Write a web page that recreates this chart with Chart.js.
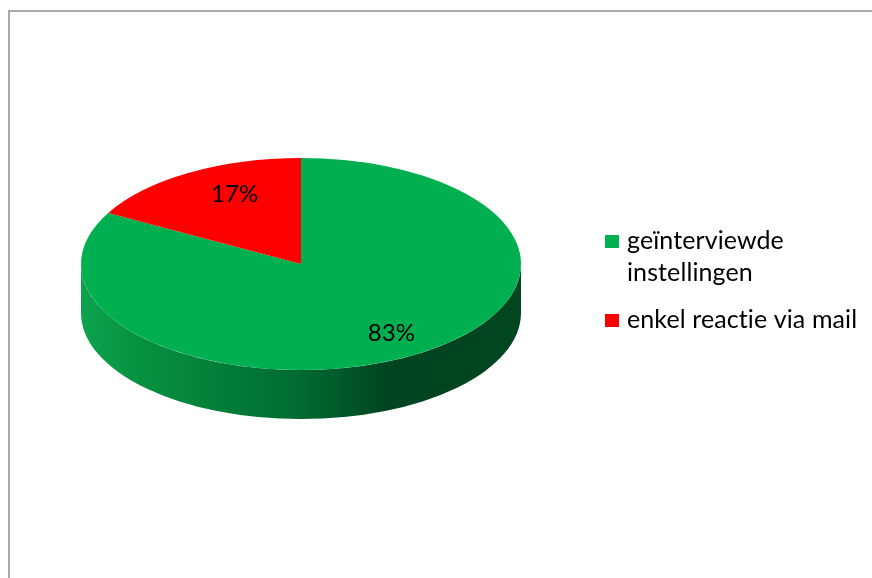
<!DOCTYPE html>
<html>
<head>
<meta charset="utf-8">
<script src="https://cdn.jsdelivr.net/npm/chart.js@4.4.0/dist/chart.umd.min.js"></script>
<style>
  html, body { margin: 0; background: #fff; overflow: hidden; }
  #pie { display: block; }
</style>
</head>
<body>
<canvas id="pie" width="872" height="578"></canvas>
<script>
const labels = ['geïnterviewde instellingen', 'enkel reactie via mail'];
const values = [83, 17];
const valueLabels = ['83%', '17%'];
const colors = ['#00b050', '#ff0000'];

// disc look
const tilt = 106 / 220;     // vertical squash of the top face
const depth = 49;           // height of the side wall
const textFont = '25px Lato';
const pctFont = '24px Lato';

const pie3d = {
  id: 'pie3d',
  beforeDraw(chart) {
    // chart frame, its right and bottom edges run off the page
    const ctx = chart.ctx;
    ctx.save();
    ctx.strokeStyle = '#a9a9a9';
    ctx.lineWidth = 2;
    ctx.beginPath();
    ctx.moveTo(9, chart.height + 5);
    ctx.lineTo(9, 11);
    ctx.lineTo(chart.width + 5, 11);
    ctx.stroke();
    ctx.restore();
  },
  beforeDatasetsDraw(chart) {
    const ctx = chart.ctx;
    const arc = chart.getDatasetMeta(0).data[0];
    const x = arc.x, y = arc.y, r = arc.outerRadius, h = r * tilt;

    // front half of the side wall
    const g = ctx.createLinearGradient(x - r, 0, x + r, 0);
    g.addColorStop(0, '#0ca24e');
    g.addColorStop(0.15, '#06903f');
    g.addColorStop(0.5, '#006a32');
    g.addColorStop(0.7, '#004421');
    g.addColorStop(1, '#00461f');
    ctx.save();
    ctx.beginPath();
    ctx.moveTo(x - r, y);
    ctx.lineTo(x - r, y + depth);
    ctx.ellipse(x, y + depth, r, h, 0, Math.PI, 0, true);
    ctx.lineTo(x + r, y);
    ctx.ellipse(x, y, r, h, 0, 0, Math.PI, false);
    ctx.closePath();
    ctx.fillStyle = g;
    ctx.fill();
    ctx.restore();

    // squash the slices into the top face
    ctx.save();
    ctx.translate(0, y);
    ctx.scale(1, tilt);
    ctx.translate(0, -y);
  },
  afterDatasetsDraw(chart) {
    const ctx = chart.ctx;
    ctx.restore();

    // percentages on the slices
    ctx.save();
    ctx.font = pctFont;
    ctx.fillStyle = '#000';
    ctx.textAlign = 'center';
    ctx.textBaseline = 'middle';
    chart.getDatasetMeta(0).data.forEach((a, i) => {
      const mid = (a.startAngle + a.endAngle) / 2;
      const px = a.x + Math.cos(mid) * a.outerRadius * 0.7 + 12;
      const py = a.y + Math.sin(mid) * a.outerRadius * tilt * 0.76;
      ctx.fillText(valueLabels[i], px, py);
    });
    ctx.restore();
  },
  afterDraw(chart) {
    // legend at the right, labels wrap when too wide
    const ctx = chart.ctx;
    const boxX = 605, textX = 627, maxW = 240, lineH = 32, gap = 15;
    let base = 249;
    ctx.save();
    ctx.font = textFont;
    ctx.letterSpacing = '0.1px';   // also keeps "ti" from joining
    ctx.textBaseline = 'alphabetic';
    labels.forEach((text, i) => {
      const lines = [];
      let cur = '';
      text.split(' ').forEach(w => {
        const t = cur ? cur + ' ' + w : w;
        if (cur && ctx.measureText(t).width > maxW) { lines.push(cur); cur = w; }
        else cur = t;
      });
      lines.push(cur);
      ctx.fillStyle = colors[i];
      ctx.fillRect(boxX, base - 14, 14, 13);
      ctx.fillStyle = '#000';
      lines.forEach((l, j) => ctx.fillText(l, textX, base + j * lineH));
      base += lines.length * lineH + gap;
    });
    ctx.restore();
  }
};

new Chart(document.getElementById('pie'), {
  type: 'pie',
  data: {
    labels: labels,
    datasets: [{
      data: values,
      backgroundColor: colors,
      borderWidth: 0
    }]
  },
  options: {
    responsive: false,
    animation: false,
    events: [],
    layout: { padding: { left: 81, right: 351, top: 44, bottom: 94 } },
    plugins: {
      legend: { display: false },
      tooltip: { enabled: false }
    }
  },
  plugins: [pie3d]
});
</script>
</body>
</html>
